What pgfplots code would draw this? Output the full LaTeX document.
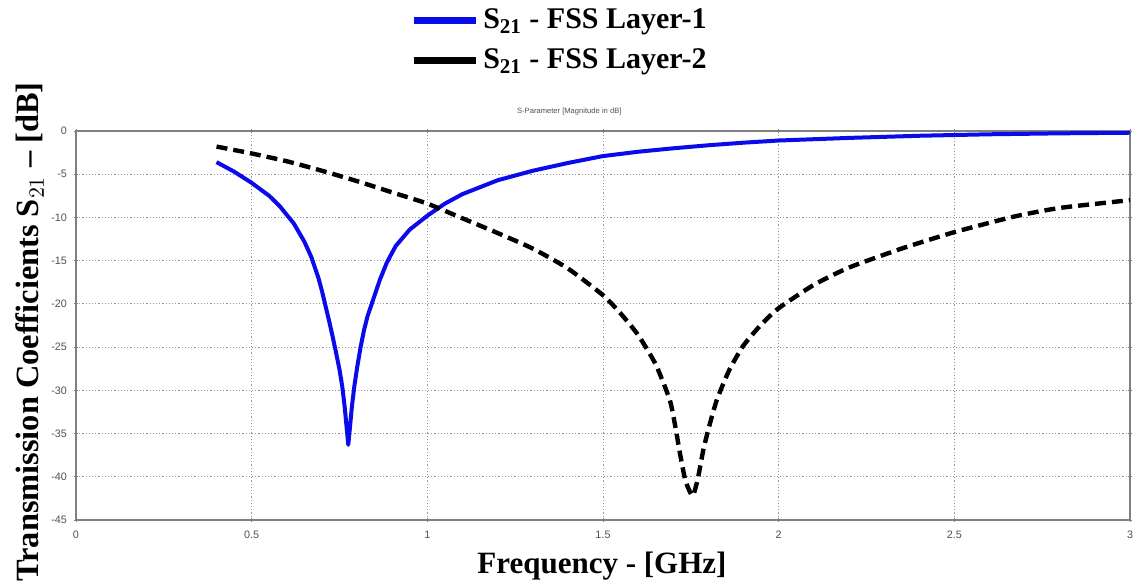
\documentclass[border=0pt]{standalone}
\usepackage{fontspec}
\setmainfont{Liberation Serif}
\setsansfont{Liberation Sans}
\usepackage{pgfplots}
\pgfplotsset{compat=1.18}
\definecolor{cstblue}{RGB}{10,10,235}
\definecolor{tickgray}{RGB}{80,80,80}

\pgfplotstableread{
f s21
0.40 -3.6
0.45 -4.7
0.50 -6.0
0.55 -7.5
0.58 -8.7
0.62 -10.7
0.65 -12.8
0.67 -14.6
0.69 -17.0
0.70 -18.5
0.71 -20.2
0.72 -21.9
0.73 -23.7
0.74 -25.6
0.75 -27.6
0.758 -29.6
0.765 -32.0
0.771 -34.6
0.775 -36.3
0.779 -34.6
0.785 -32.0
0.792 -29.6
0.80 -27.4
0.81 -25.0
0.82 -23.0
0.83 -21.4
0.845 -19.6
0.865 -17.2
0.885 -15.2
0.91 -13.3
0.95 -11.4
1.00 -9.8
1.05 -8.4
1.10 -7.3
1.20 -5.7
1.30 -4.6
1.40 -3.7
1.50 -2.9
1.60 -2.4
1.70 -2.0
1.80 -1.65
1.90 -1.35
2.00 -1.1
2.20 -0.8
2.40 -0.55
2.60 -0.38
2.80 -0.27
3.00 -0.2
}\layerone

\pgfplotstableread{
f s21
0.40 -1.8
0.50 -2.6
0.60 -3.5
0.70 -4.6
0.80 -5.8
0.90 -7.1
1.00 -8.4
1.10 -10.1
1.20 -11.8
1.30 -13.6
1.40 -15.9
1.50 -19.0
1.55 -21.1
1.60 -23.6
1.65 -27.0
1.69 -31.1
1.705 -34.0
1.72 -37.5
1.735 -40.5
1.755 -42.2
1.77 -40.2
1.785 -37.0
1.80 -34.5
1.824 -31.1
1.86 -27.6
1.90 -24.8
1.95 -22.4
2.00 -20.5
2.10 -17.8
2.20 -15.8
2.35 -13.6
2.50 -11.7
2.67 -9.9
2.80 -8.9
3.00 -8.0
}\layertwo

\begin{document}
\begin{tikzpicture}
\path[use as bounding box] (-38pt,-32.5pt) rectangle (531.5pt,260pt);
\begin{axis}[
  scale only axis,
  width=527pt, height=194.5pt,
  clip mode=individual,
  xmin=0, xmax=3, ymin=-45, ymax=0,
  xtick={0,0.5,1,1.5,2,2.5,3},
  xticklabels={0,0.5,1,1.5,2,2.5,3},
  ytick={-45,-40,-35,-30,-25,-20,-15,-10,-5,0},
  /pgf/number format/assume math mode=true,
  tick label style={font=\fontsize{5.4}{6}\selectfont\sffamily, text=tickgray},
  xticklabel style={yshift=-1pt},
  tick align=center,
  major tick length=2pt,
  tick style={gray, line width=0.4pt},
  axis line style={gray, line width=0.7pt},
  grid=major,
  grid style={gray!80, line width=0.5pt, dash pattern=on 0.6pt off 1pt},
  xlabel={Frequency - [GHz]},
  ylabel={Transmission Coefficients S$_{21}$ -- [dB]},
  xlabel style={font=\fontsize{15.5}{18}\selectfont\bfseries,
    at={(axis description cs:0.499,0)}, anchor=center, yshift=-23pt},
  ylabel style={font=\fontsize{16.2}{18}\selectfont\bfseries,
    at={(axis description cs:-0.0437,0.483)}, anchor=center},
  legend image code/.code={\draw[#1] (0pt,0pt) -- (31pt,0pt);},
  legend style={at={(axis description cs:0.3168,1.325)}, anchor=north west,
    draw=none, fill=none, inner sep=0pt,
    font=\fontsize{15}{18}\selectfont\bfseries,
    row sep=4.5pt,
    /tikz/every even column/.append style={column sep=6pt}},
  legend cell align=left,
]
\addlegendimage{cstblue, line width=3.5pt}
\addlegendentry{S$_{\mathbf{21}}$ - FSS Layer-1}
\addlegendimage{black, line width=3.5pt}
\addlegendentry{S$_{\mathbf{21}}$ - FSS Layer-2}
\addplot[cstblue, line width=2pt, line join=round, forget plot] table[x=f, y=s21] {\layerone};
\addplot[black, line width=2.2pt, line join=round, smooth, tension=0.35, dash pattern=on 5.5pt off 3pt, forget plot] table[x=f, y=s21] {\layertwo};
\node[font=\fontsize{3.8}{5}\selectfont\sffamily, text=tickgray] at (axis description cs:0.468,1) [yshift=9.5pt] {S-Parameter [Magnitude in dB]};
\end{axis}
\end{tikzpicture}
\end{document}
